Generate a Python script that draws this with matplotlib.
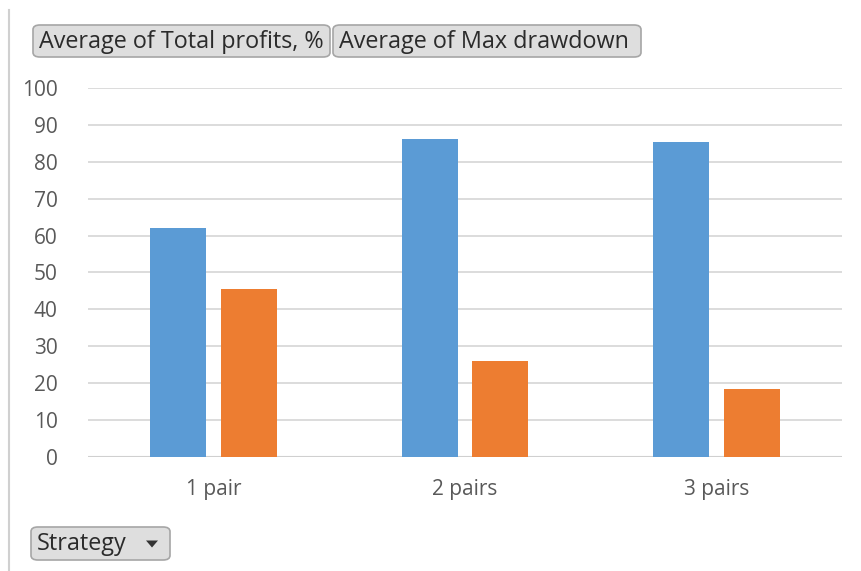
import matplotlib.pyplot as plt
import numpy as np
from matplotlib.patches import FancyBboxPatch, Polygon

categories = ['1 pair', '2 pairs', '3 pairs']
total_profits = [62.0, 86.1, 85.5]
max_drawdown = [45.6, 26.0, 18.4]
series_names = ['Average of Total profits, %', 'Average of Max drawdown']
yticks = list(range(0, 101, 10))

W, H = 861, 571
fig = plt.figure(figsize=(W / 100, H / 100), dpi=100)

def fx(px):
    return px / W

def fy(py):
    return 1 - py / H

ax = fig.add_axes([fx(88), fy(457), fx(842) - fx(88), fy(88) - fy(457)])

x = np.arange(len(categories))
bw = 0.223
off = 0.141
ax.bar(x - off, total_profits, bw, color='#5B9BD5', zorder=3)
ax.bar(x + off, max_drawdown, bw, color='#ED7D31', zorder=3)

ax.set_xlim(-0.5, 2.5)
ax.set_ylim(0, 100)
ax.set_yticks(yticks)
ax.set_xticks(x)
ax.set_xticklabels(categories)
ax.yaxis.grid(True, color='#d9d9d9', linewidth=1.3, zorder=0)
for s in ax.spines.values():
    s.set_visible(False)
ax.axhline(0, color='#d0d0d0', linewidth=1.5, zorder=2)
ax.tick_params(length=0, labelsize=15, labelcolor='#595959')
ax.tick_params(axis='y', pad=22)
ax.tick_params(axis='x', pad=16)
for lab in ax.get_xticklabels() + ax.get_yticklabels():
    lab.set_family('Open Sans')

# left frame edge
fig.add_artist(plt.Line2D([fx(9), fx(9)], [fy(10), 0], color='#d0d0d0', linewidth=1.5))

def button(x0, y0, x1, y1, label, arrow=False):
    box = FancyBboxPatch((fx(x0), fy(y1)), fx(x1) - fx(x0), fy(y0) - fy(y1),
                         boxstyle='round,pad=0,rounding_size=0.008',
                         facecolor='#dedede', edgecolor='#a6a6a6', linewidth=1.2,
                         transform=fig.transFigure)
    fig.add_artist(box)
    fig.text(fx(x0 + 6), fy((y0 + y1) / 2 + 1), label, fontsize=16.8, family='Open Sans',
             color='#2b2b2b', va='center', ha='left')
    if arrow:
        cx, cy = x1 - 18, (y0 + y1) / 2
        tri = Polygon([(fx(cx - 6), fy(cy - 3)), (fx(cx + 6), fy(cy - 3)), (fx(cx), fy(cy + 4))],
                      closed=True, facecolor='#333333', edgecolor='none',
                      transform=fig.transFigure)
        fig.add_artist(tri)

button(33, 25, 330, 57, series_names[0])
button(333, 25, 641, 57, series_names[1])
button(31, 527, 170, 560, 'Strategy', arrow=True)

fig.savefig('out.png', dpi=100, facecolor='white')
